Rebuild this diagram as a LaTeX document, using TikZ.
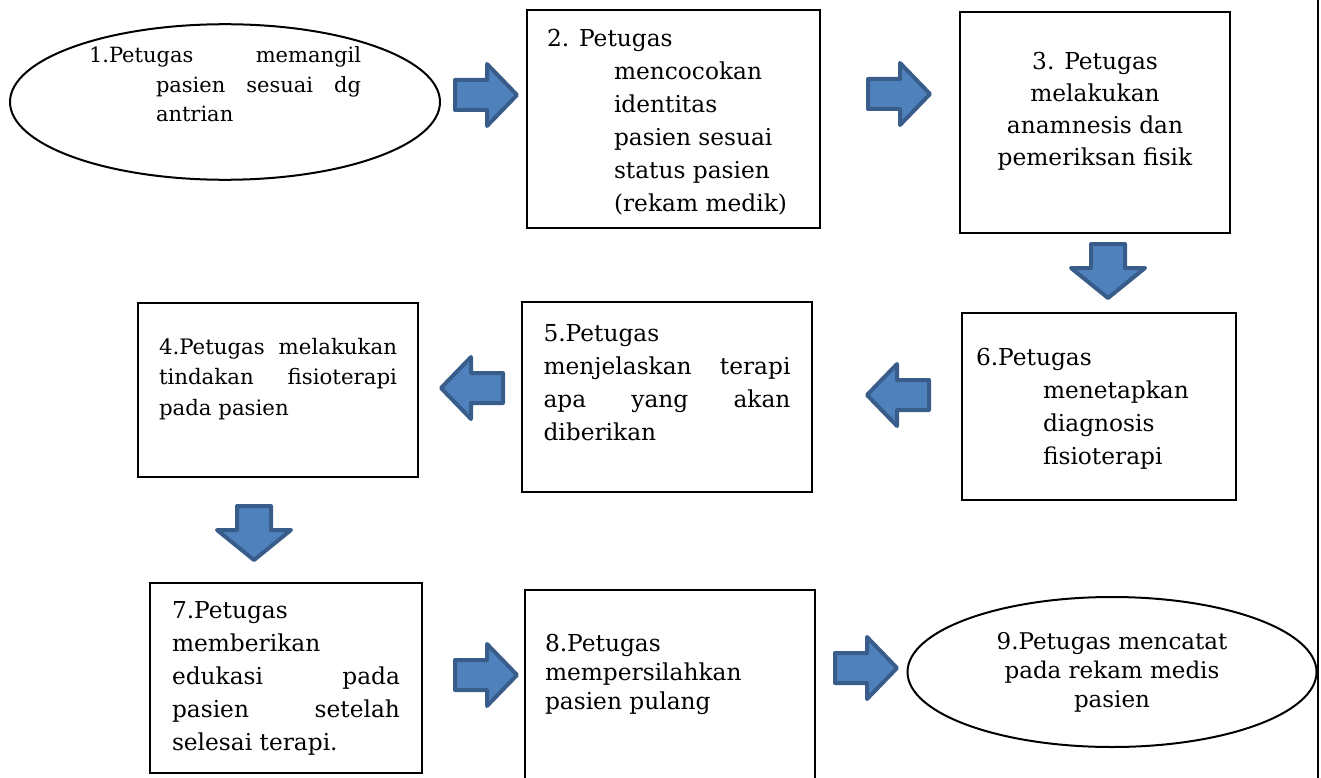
\documentclass[tikz,border=0pt]{standalone}
\usepackage{fontspec}
\setmainfont{DejaVu Serif}
\usetikzlibrary{shapes.geometric}
\definecolor{arrowfill}{HTML}{4F81BD}
\definecolor{arrowline}{HTML}{385D8A}
\newcommand{\boxbody}[3]{\begin{minipage}[c][#1pt][t]{#2pt}#3\end{minipage}}
\newcommand{\jline}[2]{\makebox[#1pt][s]{#2}}

\begin{document}
\begin{tikzpicture}[x=1pt,y=-1pt,
	box/.style={draw,line width=2.5pt,rectangle,inner sep=0pt,font=\fontsize{23.3}{33}\selectfont},
	oval/.style={draw,line width=2pt,ellipse,inner sep=0pt},
	blockarrow/.style={fill=arrowfill,draw=arrowline,line width=4pt,line join=round},
	rarrow/.pic={\path[blockarrow] (-31,-15) -- (1,-15) -- (1,-31) -- (31,0) -- (1,31) -- (1,15) -- (-31,15) -- cycle;},
	darrow/.pic={\path[blockarrow] (-17,-27) -- (17,-27) -- (17,-3) -- (37,-3) -- (0,27) -- (-37,-3) -- (-17,-3) -- cycle;}]
	\useasboundingbox (0,0) rectangle (1321,778);
	% baris atas
	\node[oval,minimum width=430pt,minimum height=155pt,font=\fontsize{21}{29.5}\selectfont] (n1) at (225,102)
		{\boxbody{110}{272}{\jline{272}{1.Petugas memangil}\\ \hspace*{67pt}\jline{205}{pasien sesuai dg}\\ \hspace*{67pt}antrian}};
	\node[box,minimum width=293pt,minimum height=218pt] (n2) at (673.5,119)
		{\boxbody{179}{253}{2. Petugas\\ \hspace*{67pt}mencocokan\\ \hspace*{67pt}identitas\\ \hspace*{67pt}pasien sesuai\\ \hspace*{67pt}status pasien\\ \hspace*{67pt}(rekam medik)}};
	\node[box,minimum width=270pt,minimum height=221pt,font=\fontsize{23.3}{32}\selectfont] (n3) at (1095,122.5)
		{\boxbody{140}{250}{\centering 3. Petugas\\ melakukan\\ anamnesis dan\\ pemeriksan fisik}};
	% baris tengah
	\node[box,minimum width=274pt,minimum height=187pt] (n6) at (1099,406.5)
		{\boxbody{116}{246}{6.Petugas\\ \hspace*{67pt}menetapkan\\ \hspace*{67pt}diagnosis\\ \hspace*{67pt}fisioterapi}};
	\node[box,minimum width=290pt,minimum height=190pt] (n5) at (667,397)
		{\boxbody{145}{247}{5.Petugas\\ \jline{247}{menjelaskan terapi}\\ \jline{247}{apa yang akan}\\ diberikan}};
	\node[box,minimum width=280pt,minimum height=174pt,font=\fontsize{21.3}{30.5}\selectfont] (n4) at (278,390)
		{\boxbody{104}{238}{\jline{238}{4.Petugas melakukan}\\ \jline{238}{tindakan fisioterapi}\\ pada pasien}};
	% baris bawah
	\node[box,minimum width=272pt,minimum height=190pt] (n7) at (286,678)
		{\boxbody{153}{228}{7.Petugas\\ memberikan\\ \jline{228}{edukasi pada}\\ \jline{228}{pasien setelah}\\ selesai terapi.}};
	\node[box,minimum width=290pt,minimum height=210pt,font=\fontsize{23.3}{29}\selectfont] (n8) at (670,695)
		{\boxbody{121}{250}{8.Petugas\\ mempersilahkan\\ pasien pulang}};
	\node[oval,minimum width=409pt,minimum height=150pt,align=center,font=\fontsize{23}{29}\selectfont] (n9) at (1112,672)
		{9.Petugas mencatat\\ pada rekam medis\\ pasien};
	% panah
	\pic at (486,95) {rarrow};
	\pic at (899,94) {rarrow};
	\pic at (1108,271) {darrow};
	\pic[rotate=180] at (898,395) {rarrow};
	\pic[rotate=180] at (472,388) {rarrow};
	\pic at (254,533) {darrow};
	\pic at (486,675) {rarrow};
	\pic at (866,668) {rarrow};
	\draw[line width=2.5pt] (1318,0) -- (1318,778);
\end{tikzpicture}
\end{document}
